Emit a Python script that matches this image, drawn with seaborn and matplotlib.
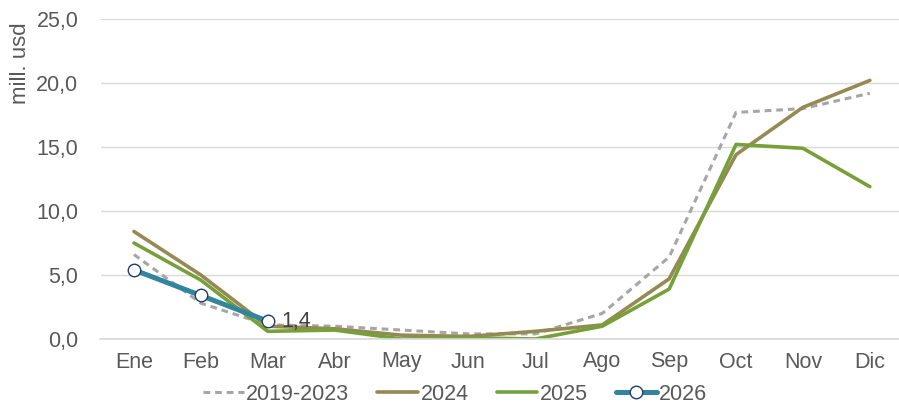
import numpy as np
import pandas as pd
import matplotlib
matplotlib.use("Agg")
import matplotlib.pyplot as plt
import seaborn as sns

# datos del grafico (mill. usd)
meses = ["Ene", "Feb", "Mar", "Abr", "May", "Jun", "Jul", "Ago", "Sep", "Oct", "Nov", "Dic"]
prom_2019_2023 = [6.6, 2.8, 1.1, 1.0, 0.7, 0.4, 0.4, 2.0, 6.4, 17.7, 18.0, 19.2]
v2024 = [8.4, 5.0, 1.0, 0.8, 0.3, 0.2, 0.6, 1.1, 4.7, 14.4, 18.1, 20.2]
v2025 = [7.5, 4.6, 0.6, 0.7, 0.0, 0.1, 0.0, 1.0, 3.9, 15.2, 14.9, 11.9]
v2026 = [5.4, 3.4, 1.4]

sns.set_theme(style="white")
plt.rcParams["font.family"] = ["Liberation Sans", "DejaVu Sans"]

fig = plt.figure(figsize=(8.99, 4.03), dpi=100)
ax = fig.add_axes([100.5 / 899, 64 / 403, 798.5 / 899, 320 / 403])

df = pd.DataFrame({"mes": meses, "p": prom_2019_2023, "a24": v2024, "a25": v2025})
df["x"] = np.arange(len(meses))
df26 = pd.DataFrame({"x": np.arange(len(v2026)), "v": v2026})

sns.lineplot(data=df, x="x", y="p", ax=ax, color="#A6A6A6", lw=2.2,
             linestyle=(0, (2.2, 1.6)), label="2019-2023")
sns.lineplot(data=df, x="x", y="a24", ax=ax, color="#948A54", lw=2.6, label="2024")
sns.lineplot(data=df, x="x", y="a25", ax=ax, color="#77A03A", lw=2.6, label="2025")
sns.lineplot(data=df26, x="x", y="v", ax=ax, color="#31859C", lw=3.6, label="2026",
             marker="o", markersize=9, markerfacecolor="white",
             markeredgecolor="#1F3D6E", markeredgewidth=1.0)

# etiqueta del ultimo dato
ax.annotate("1,4", (2, v2026[-1]), xytext=(10, 0), textcoords="offset points",
            va="center", ha="left", fontsize=15.5, color="#404040")

ax.set_xlim(-0.5, -0.5 + 798.5 / 66.9)
ax.set_ylim(0, 25)
ax.set_yticks(np.arange(0, 26, 5))
ax.set_yticklabels([f"{v:.1f}".replace(".", ",") for v in np.arange(0, 26, 5)])
ax.set_xticks(df["x"])
ax.set_xticklabels(meses)
ax.tick_params(axis="both", labelsize=15.5, colors="#595959", length=0)
ax.tick_params(axis="x", pad=9)
ax.tick_params(axis="y", pad=16)
ax.grid(axis="y", color="#D9D9D9", lw=1)
ax.set_axisbelow(True)
for s in ["top", "right", "left"]:
    ax.spines[s].set_visible(False)
ax.spines["bottom"].set_color("#D9D9D9")
ax.set_xlabel("")
ax.set_ylabel("mill. usd", fontsize=16, color="#595959")
ax.yaxis.set_label_coords(-0.087, 0.8625)

h, l = ax.get_legend_handles_labels()
ax.legend(h, l, loc="center", bbox_to_anchor=(455 / 899, 9 / 403),
          bbox_transform=fig.transFigure, ncol=4, frameon=False,
          fontsize=15.5, labelcolor="#595959", handlelength=1.9,
          handletextpad=0.1, columnspacing=1.3)

fig.savefig("out.png", dpi=100)
